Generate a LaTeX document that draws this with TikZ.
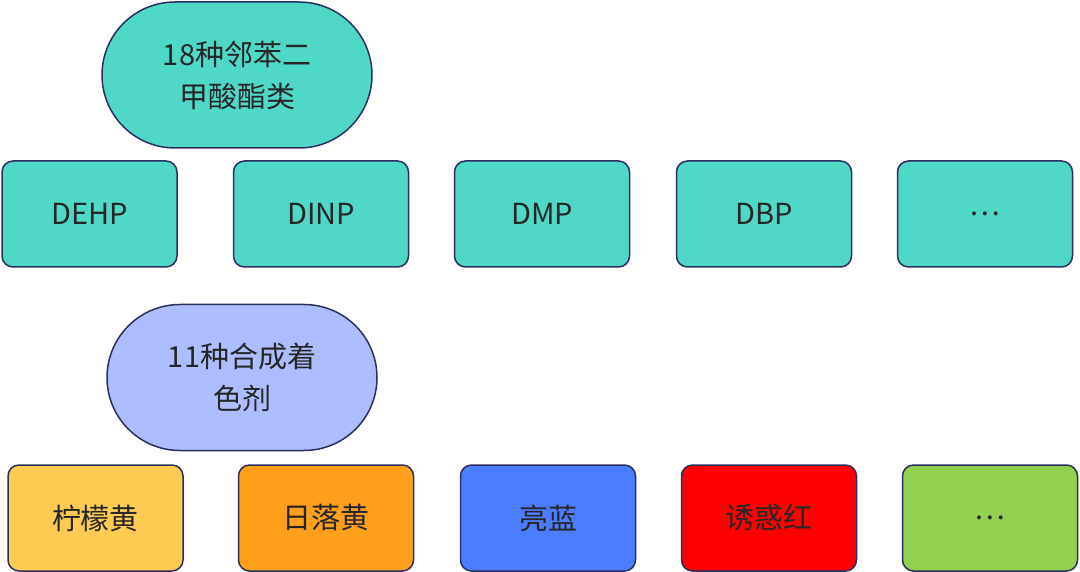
\documentclass[tikz,border=0pt]{standalone}
\usepackage{fontspec}
\setmainfont{Noto Sans CJK SC}
\usetikzlibrary{shapes.misc}
\definecolor{navy1}{HTML}{2B2F5E}
\definecolor{teal1}{HTML}{4FD8C6}
\definecolor{lav1}{HTML}{ADBDFF}
\definecolor{lemon1}{HTML}{FFCB52}
\definecolor{sunset1}{HTML}{FF9F1C}
\definecolor{blue1}{HTML}{4A7DFF}
\definecolor{red1}{HTML}{FF0000}
\definecolor{green1}{HTML}{92D050}

\begin{document}
\begin{tikzpicture}[x=1pt, y=-1pt,
  box/.style={draw=navy1, line width=1.5pt, rounded corners=11pt, minimum width=175pt, minimum height=106pt, inner sep=0pt, font=\fontsize{29}{42}\selectfont, text=black!85},
  pill/.style={rounded rectangle, draw=navy1, line width=1.5pt, minimum width=270pt, minimum height=146pt, inner sep=0pt, align=center, font=\fontsize{29}{42}\selectfont, text=black!85}]
\useasboundingbox (0,0) rectangle (1080,572);
% phthalates
\node[pill, fill=teal1] (pae) at (237,75) {18种邻苯二\\甲酸酯类};
\node[box, fill=teal1] (dehp) at (89.5,214) {DEHP};
\node[box, fill=teal1] (dinp) at (321,214) {DINP};
\node[box, fill=teal1] (dmp) at (542,214) {DMP};
\node[box, fill=teal1] (dbp) at (764,214) {DBP};
\node[box, fill=teal1] (pmore) at (985,214) {…};
% colourants
\node[pill, fill=lav1] (dye) at (242,377.5) {11种合成着\\色剂};
\node[box, fill=lemon1] (lemon) at (95.5,518) {柠檬黄};
\node[box, fill=sunset1] (sunset) at (326,518) {日落黄};
\node[box, fill=blue1] (brill) at (548,518) {亮蓝};
\node[box, fill=red1] (allura) at (769,518) {诱惑红};
\node[box, fill=green1] (dmore) at (990,518) {…};
\end{tikzpicture}
\end{document}
